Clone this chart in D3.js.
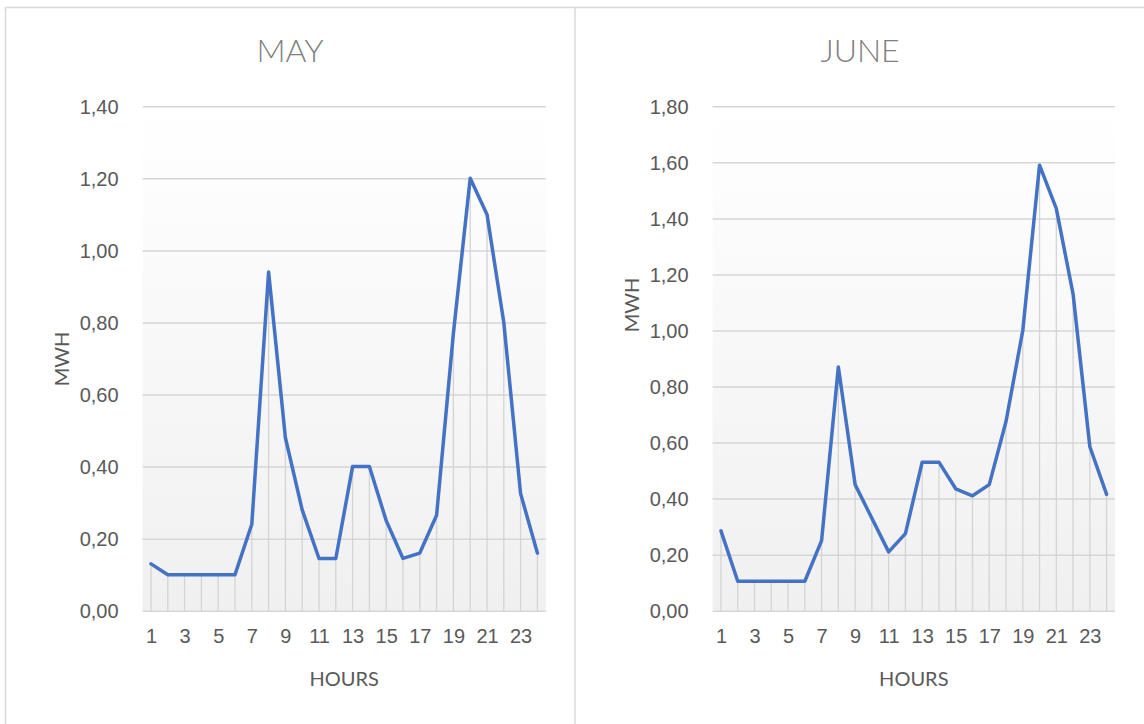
<!DOCTYPE html>
<html>
<head>
<meta charset="utf-8">
<script src="https://cdn.jsdelivr.net/npm/d3@7"></script>
<style>
  body { margin: 0; background: #fff; }
  svg { display: block; font-family: Lato, "Open Sans", sans-serif; }
</style>
</head>
<body>
<svg id="chart" width="1144" height="724"></svg>
<script>
"use strict";

const hours = d3.range(1, 25);
const hourLabels = hours.filter((h) => h % 2 === 1);

const mayValues = [
  0.13, 0.10, 0.10, 0.10, 0.10, 0.10, 0.24, 0.94, 0.48, 0.28, 0.145, 0.145,
  0.40, 0.40, 0.25, 0.145, 0.16, 0.265, 0.77, 1.20, 1.10, 0.80, 0.325, 0.16
];
const juneValues = [
  0.285, 0.105, 0.105, 0.105, 0.105, 0.105, 0.25, 0.87, 0.45, 0.33, 0.21, 0.275,
  0.53, 0.53, 0.435, 0.41, 0.45, 0.675, 1.00, 1.59, 1.435, 1.13, 0.585, 0.415
];

const mayTicks = [0, 0.2, 0.4, 0.6, 0.8, 1.0, 1.2, 1.4];
const juneTicks = [0, 0.2, 0.4, 0.6, 0.8, 1.0, 1.2, 1.4, 1.6, 1.8];

const panels = [
  { title: "MAY", values: mayValues, ticks: mayTicks, left: 5, plotX: [142.6, 545.8], mwhY: 359 },
  { title: "JUNE", values: juneValues, ticks: juneTicks, left: 575, plotX: [712.6, 1115], mwhY: 305 }
];

const svg = d3.select("#chart");
const plotTop = 106.3;
const plotBottom = 610.7;
const fmt = (d) => d3.format(".2f")(d).replace(".", ",");

// plot background fades from white to light grey
const grad = svg.append("defs").append("linearGradient")
  .attr("id", "bg")
  .attr("x1", 0).attr("y1", 0).attr("x2", 0).attr("y2", 1);
grad.append("stop").attr("offset", "0%").attr("stop-color", "#ffffff");
grad.append("stop").attr("offset", "100%").attr("stop-color", "#f0f0f0");

// outer frame and divider
svg.append("rect")
  .attr("x", 5.5).attr("y", 7.5)
  .attr("width", 1160).attr("height", 740)
  .attr("fill", "none").attr("stroke", "#d9d9d9").attr("stroke-width", 1.5);
svg.append("line")
  .attr("x1", 575).attr("x2", 575).attr("y1", 7).attr("y2", 724)
  .attr("stroke", "#d9d9d9").attr("stroke-width", 1.5);

panels.forEach((p) => {
  const g = svg.append("g");

  const x = d3.scalePoint().domain(hours).range(p.plotX).padding(0.5);
  const y = d3.scaleLinear()
    .domain([0, d3.max(p.ticks)])
    .range([plotBottom, plotTop]);

  g.append("rect")
    .attr("x", p.plotX[0]).attr("y", plotTop)
    .attr("width", p.plotX[1] - p.plotX[0])
    .attr("height", plotBottom - plotTop)
    .attr("fill", "url(#bg)");

  // horizontal gridlines + y labels
  const yAxis = g.append("g")
    .attr("transform", `translate(${p.plotX[0]},0)`)
    .call(d3.axisLeft(y).tickValues(p.ticks).tickFormat(fmt)
      .tickSize(-(p.plotX[1] - p.plotX[0])).tickPadding(24));
  yAxis.select(".domain").remove();
  yAxis.selectAll(".tick line").attr("stroke", "#d6d6d6").attr("stroke-width", 1.5);
  yAxis.selectAll(".tick text")
    .attr("fill", "#595959").attr("font-size", 20).attr("dy", "0.36em");

  // drop lines from each point
  g.selectAll(".drop")
    .data(p.values)
    .join("line")
    .attr("class", "drop")
    .attr("x1", (d, i) => x(hours[i]))
    .attr("x2", (d, i) => x(hours[i]))
    .attr("y1", (d) => y(d))
    .attr("y2", y(0))
    .attr("stroke", "#d4d4d4")
    .attr("stroke-width", 1.3);

  // x labels
  const xAxis = g.append("g")
    .attr("transform", `translate(0,${plotBottom})`)
    .call(d3.axisBottom(x).tickValues(hourLabels).tickSize(0).tickPadding(25));
  xAxis.select(".domain").remove();
  xAxis.selectAll(".tick text")
    .attr("fill", "#595959").attr("font-size", 20).attr("dy", "0.36em");

  const line = d3.line()
    .x((d, i) => x(hours[i]))
    .y((d) => y(d));

  g.append("path")
    .datum(p.values)
    .attr("d", line)
    .attr("fill", "none")
    .attr("stroke", "#4472c4")
    .attr("stroke-width", 3.5)
    .attr("stroke-linejoin", "round")
    .attr("stroke-linecap", "round");

  const cx = p.left + 285;
  g.append("text")
    .attr("x", cx).attr("y", 62)
    .attr("text-anchor", "middle")
    .attr("font-size", 32).attr("font-weight", 300)
    .attr("fill", "#7f7f7f")
    .text(p.title);

  g.append("text")
    .attr("x", (p.plotX[0] + p.plotX[1]) / 2).attr("y", 686)
    .attr("text-anchor", "middle")
    .attr("font-size", 20).attr("fill", "#595959")
    .text("HOURS");

  g.append("text")
    .attr("transform", `translate(${p.left + 57},${p.mwhY}) rotate(-90)`)
    .attr("text-anchor", "middle")
    .attr("dy", "0.36em")
    .attr("font-size", 20).attr("fill", "#595959")
    .text("MWH");
});
</script>
</body>
</html>
